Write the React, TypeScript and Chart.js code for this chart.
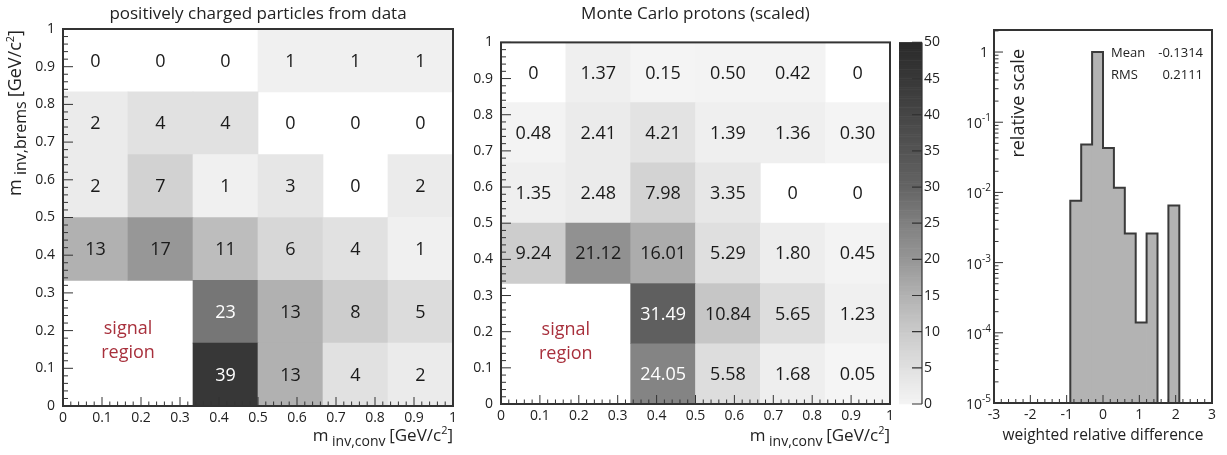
import React, { useEffect, useRef } from 'react';
import { Chart, registerables } from 'chart.js';

Chart.register(...registerables);

const FONT = "'Open Sans', 'DejaVu Sans', sans-serif";
const INK = '#222222';
const FRAME = '#333333';

// ---------- 2D histogram binning (6 x 6 bins on [0,1] x [0,1]) ----------
const xEdges = [0, 1 / 6, 2 / 6, 3 / 6, 4 / 6, 5 / 6, 1];
const yEdges = [0, 1 / 6, 2 / 6, 3 / 6, 4 / 6, 5 / 6, 1];
const heatTickStep = 0.1;
const signalX = [0, 2 / 6];
const signalY = [0, 2 / 6];

type Cell = number | null;

// positively charged particles from data (rows bottom -> top, null = empty)
const dataRow0: Cell[] = [null, null, 39, 13, 4, 2];
const dataRow1: Cell[] = [null, null, 23, 13, 8, 5];
const dataRow2: Cell[] = [13, 17, 11, 6, 4, 1];
const dataRow3: Cell[] = [2, 7, 1, 3, 0, 2];
const dataRow4: Cell[] = [2, 4, 4, 0, 0, 0];
const dataRow5: Cell[] = [0, 0, 0, 1, 1, 1];

// Monte Carlo protons (scaled)
const mcRow0: Cell[] = [null, null, 24.05, 5.58, 1.68, 0.05];
const mcRow1: Cell[] = [null, null, 31.49, 10.84, 5.65, 1.23];
const mcRow2: Cell[] = [9.24, 21.12, 16.01, 5.29, 1.8, 0.45];
const mcRow3: Cell[] = [1.35, 2.48, 7.98, 3.35, 0, 0];
const mcRow4: Cell[] = [0.48, 2.41, 4.21, 1.39, 1.36, 0.3];
const mcRow5: Cell[] = [0, 1.37, 0.15, 0.5, 0.42, 0];

// grey palette (colour bar levels 0..50)
const paletteLevels = [0, 5, 10, 15, 20, 25, 30, 35, 40, 45, 50];
const paletteGrays = [245, 224, 202, 178, 150, 128, 100, 84, 70, 56, 42];
const colorbarMin = 0;
const colorbarMax = 50;
const colorbarStep = 5;
const dataPaletteTop = 43;
const mcPaletteTop = 50;
const whiteTextAbove = 22;

// ---------- 1D histogram: weighted relative difference ----------
const diffEdges = [-0.9, -0.6, -0.3, 0, 0.3, 0.6, 0.9, 1.2, 1.5, 1.8, 2.1];
const diffValues = [0.0076, 0.048, 1.0, 0.043, 0.0117, 0.0026, 0.00014, 0.0026, 0, 0.0065];
const diffXMin = -3;
const diffXMax = 3;
const diffYMin = 1e-5;
const diffYMax = 2.06;
const statMean = '-0.1314';
const statRms = '0.2111';

function paletteGray(level: number): number {
  if (level <= paletteLevels[0]) return paletteGrays[0];
  for (let i = 1; i < paletteLevels.length; i++) {
    if (level <= paletteLevels[i]) {
      const t = (level - paletteLevels[i - 1]) / (paletteLevels[i] - paletteLevels[i - 1]);
      return paletteGrays[i - 1] + (paletteGrays[i] - paletteGrays[i - 1]) * t;
    }
  }
  return paletteGrays[paletteGrays.length - 1];
}

function grayCss(g: number) {
  const r = Math.round(g);
  return `rgb(${r},${r},${r})`;
}

function cellColor(v: Cell, top: number) {
  if (v === null || v === 0) return 'rgba(255,255,255,0)';
  return grayCss(paletteGray((v / top) * colorbarMax));
}

type Part = { t: string; size: number; dy?: number };

function drawRich(ctx: CanvasRenderingContext2D, parts: Part[], x: number, y: number, align: 'left' | 'right' | 'center') {
  const widths = parts.map((p) => {
    ctx.font = `${p.size}px ${FONT}`;
    return ctx.measureText(p.t).width;
  });
  const total = widths.reduce((a, b) => a + b, 0);
  let cx = align === 'right' ? x - total : align === 'center' ? x - total / 2 : x;
  ctx.textAlign = 'left';
  ctx.textBaseline = 'alphabetic';
  parts.forEach((p, i) => {
    ctx.font = `${p.size}px ${FONT}`;
    ctx.fillText(p.t, cx, y + (p.dy || 0));
    cx += widths[i];
  });
}

const xTitleParts: Part[] = [
  { t: 'm', size: 17 },
  { t: ' inv,conv ', size: 14, dy: 5 },
  { t: '[GeV/c', size: 17 },
  { t: '2', size: 11, dy: -7 },
  { t: ']', size: 17 },
];
const yTitleParts: Part[] = [
  { t: 'm', size: 18 },
  { t: ' inv,brems ', size: 16, dy: 5 },
  { t: '[GeV/c', size: 18 },
  { t: '2', size: 11, dy: -7 },
  { t: ']', size: 18 },
];

function heatTickLabel(v: number | string) {
  const n = Number(v);
  if (Math.abs(n) < 1e-9) return '0';
  return String(Math.round(n * 10) / 10);
}

interface HeatSpec {
  rows: Cell[][];
  top: number;
  fmt: (v: number) => string;
  title: string;
  yTitle: boolean;
  colorbar: boolean;
  padTop: number;
  padRight: number;
  yAxisWidth: number;
  xAxisHeight: number;
  cbWidth: number;
}

function drawInwardTicks(ctx: CanvasRenderingContext2D, scale: any, ca: any, horizontal: boolean, majLen: number, minLen: number, sub: number) {
  ctx.beginPath();
  const majors: number[] = scale.ticks.map((t: any) => t.value);
  const addTick = (v: number, len: number) => {
    const p = scale.getPixelForValue(v);
    if (horizontal) {
      ctx.moveTo(p, ca.bottom);
      ctx.lineTo(p, ca.bottom - len);
    } else {
      ctx.moveTo(ca.left, p);
      ctx.lineTo(ca.left + len, p);
    }
  };
  majors.forEach((v) => addTick(v, majLen));
  for (let i = 0; i < majors.length - 1; i++) {
    for (let k = 1; k < sub; k++) addTick(majors[i] + ((majors[i + 1] - majors[i]) * k) / sub, minLen);
  }
  ctx.stroke();
}

function buildHeatmap(canvas: HTMLCanvasElement, spec: HeatSpec) {
  const centers = xEdges.slice(0, -1).map((e, i) => (e + xEdges[i + 1]) / 2);
  const datasets: any[] = spec.rows.map((row, r) => ({
    type: 'bar',
    label: `row ${r}`,
    data: centers.map((x) => ({ x, y: yEdges[r + 1] - yEdges[r] })),
    backgroundColor: row.map((v) => cellColor(v, spec.top)),
    borderWidth: 0,
    barThickness: 'flex',
    categoryPercentage: 1,
    barPercentage: 1,
    stack: 'cells',
    xAxisID: 'x',
    yAxisID: 'y',
  }));

  const deco = {
    id: 'heatDeco',
    afterDatasetsDraw(chart: any) {
      const ctx: CanvasRenderingContext2D = chart.ctx;
      ctx.save();
      ctx.font = `18px ${FONT}`;
      ctx.textAlign = 'center';
      ctx.textBaseline = 'middle';
      spec.rows.forEach((row, r) => {
        const meta = chart.getDatasetMeta(r);
        row.forEach((v, c) => {
          if (v === null) return;
          const el: any = meta.data[c];
          const cy = (el.y + el.base) / 2;
          ctx.fillStyle = v > whiteTextAbove ? '#ffffff' : '#1a1a1a';
          ctx.fillText(spec.fmt(v), el.x, cy + 1);
        });
      });
      const xs = chart.scales.x;
      const ys = chart.scales.y;
      const sx = xs.getPixelForValue((signalX[0] + signalX[1]) / 2);
      const sy = ys.getPixelForValue((signalY[0] + signalY[1]) / 2);
      ctx.fillStyle = '#a8303c';
      ctx.font = `18px ${FONT}`;
      ctx.fillText('signal', sx, sy - 14);
      ctx.fillText('region', sx, sy + 10);
      ctx.restore();
    },
    afterDraw(chart: any) {
      const ctx: CanvasRenderingContext2D = chart.ctx;
      const ca = chart.chartArea;
      ctx.save();
      ctx.strokeStyle = FRAME;
      ctx.lineWidth = 1;
      drawInwardTicks(ctx, chart.scales.x, ca, true, 9, 4.5, 5);
      drawInwardTicks(ctx, chart.scales.y, ca, false, 10, 5, 5);
      ctx.lineWidth = 2;
      ctx.strokeRect(ca.left, ca.top, ca.right - ca.left, ca.bottom - ca.top);

      ctx.fillStyle = INK;
      ctx.font = `17px ${FONT}`;
      ctx.textAlign = 'center';
      ctx.textBaseline = 'alphabetic';
      ctx.fillText(spec.title, (ca.left + ca.right) / 2, 19);

      drawRich(ctx, xTitleParts, ca.right, 441, 'right');
      if (spec.yTitle) {
        ctx.save();
        ctx.translate(21, ca.top + 1);
        ctx.rotate(-Math.PI / 2);
        drawRich(ctx, yTitleParts, 0, 0, 'right');
        ctx.restore();
      }

      if (spec.colorbar) {
        const cb = chart.scales.cb;
        const x0 = ca.right + 9;
        const x1 = ca.right + 32;
        const step = 0.25;
        for (let v = colorbarMin; v < colorbarMax - 1e-9; v += step) {
          const yTop = cb.getPixelForValue(v + step);
          const yBot = cb.getPixelForValue(v);
          ctx.fillStyle = grayCss(paletteGray(v + step / 2));
          ctx.fillRect(x0, yTop - 0.3, x1 - x0, yBot - yTop + 0.6);
        }
        ctx.strokeStyle = FRAME;
        ctx.lineWidth = 1.2;
        ctx.beginPath();
        ctx.moveTo(x1, cb.top);
        ctx.lineTo(x1, cb.bottom);
        cb.ticks.forEach((t: any) => {
          const py = cb.getPixelForValue(t.value);
          ctx.moveTo(x1 - 10, py);
          ctx.lineTo(x1, py);
        });
        ctx.stroke();
      }
      ctx.restore();
    },
  };

  const tickFont = { family: FONT, size: 14 };
  const scales: any = {
    x: {
      type: 'linear',
      min: 0,
      max: 1,
      stacked: true,
      offset: false,
      grid: { display: false, drawTicks: false },
      border: { display: false },
      ticks: { stepSize: heatTickStep, autoSkip: false, maxRotation: 0, padding: 4, color: INK, font: tickFont, callback: heatTickLabel },
      afterFit: (s: any) => {
        s.height = spec.xAxisHeight;
      },
    },
    y: {
      type: 'linear',
      position: 'left',
      min: 0,
      max: 1,
      stacked: true,
      grid: { display: false, drawTicks: false },
      border: { display: false },
      ticks: { stepSize: heatTickStep, autoSkip: false, padding: 8, color: INK, font: tickFont, callback: heatTickLabel },
      afterFit: (s: any) => {
        s.width = spec.yAxisWidth;
      },
    },
  };
  if (spec.colorbar) {
    scales.cb = {
      type: 'linear',
      position: 'right',
      display: true,
      min: colorbarMin,
      max: colorbarMax,
      grid: { display: false, drawTicks: false },
      border: { display: false },
      ticks: { stepSize: colorbarStep, autoSkip: false, padding: 34, color: INK, font: tickFont },
      afterFit: (s: any) => {
        s.width = spec.cbWidth;
      },
    };
  }

  return new Chart(canvas, {
    type: 'bar',
    data: { datasets },
    options: {
      responsive: false,
      animation: false,
      events: [],
      layout: { padding: { top: spec.padTop, right: spec.padRight, left: 0, bottom: 0 } },
      plugins: { legend: { display: false }, tooltip: { enabled: false }, title: { display: false } },
      scales,
    } as any,
    plugins: [deco],
  });
}

function buildDiff(canvas: HTMLCanvasElement) {
  const centers = diffValues.map((_, i) => (diffEdges[i] + diffEdges[i + 1]) / 2);
  const outline: { x: number; y: number }[] = [{ x: diffEdges[0], y: diffYMin }];
  diffValues.forEach((v, i) => outline.push({ x: diffEdges[i], y: v > 0 ? v : diffYMin }));
  outline.push({ x: diffEdges[diffEdges.length - 1], y: diffYMin });

  const logMinors: number[] = [];
  for (let e = Math.floor(Math.log10(diffYMin)); e <= Math.floor(Math.log10(diffYMax)); e++) {
    for (let k = 2; k <= 9; k++) {
      const v = k * Math.pow(10, e);
      if (v > diffYMin && v < diffYMax) logMinors.push(v);
    }
  }

  const deco = {
    id: 'diffDeco',
    afterDraw(chart: any) {
      const ctx: CanvasRenderingContext2D = chart.ctx;
      const ca = chart.chartArea;
      const xs = chart.scales.x;
      const ys = chart.scales.y;
      ctx.save();
      ctx.strokeStyle = FRAME;
      ctx.lineWidth = 1;
      drawInwardTicks(ctx, xs, ca, true, 8, 4, 5);
      const decades: number[] = [];
      for (let e = Math.ceil(Math.log10(ys.min) - 1e-9); e <= Math.floor(Math.log10(ys.max) + 1e-9); e++) decades.push(e);
      ctx.beginPath();
      decades.forEach((e) => {
        const p = ys.getPixelForValue(Math.pow(10, e));
        ctx.moveTo(ca.left, p);
        ctx.lineTo(ca.left + 9, p);
      });
      logMinors.forEach((v) => {
        const p = ys.getPixelForValue(v);
        ctx.moveTo(ca.left, p);
        ctx.lineTo(ca.left + 4.5, p);
      });
      ctx.stroke();
      ctx.lineWidth = 2;
      ctx.strokeRect(ca.left, ca.top, ca.right - ca.left, ca.bottom - ca.top);

      ctx.fillStyle = INK;
      decades.forEach((e) => {
        const p = ys.getPixelForValue(Math.pow(10, e));
        if (e === 0) drawRich(ctx, [{ t: '1', size: 14 }], ca.left - 6, p + 5, 'right');
        else drawRich(ctx, [{ t: '10', size: 14 }, { t: String(e), size: 10, dy: -7 }], ca.left - 3, p + 6, 'right');
      });

      // stats
      ctx.font = `13px ${FONT}`;
      ctx.textBaseline = 'alphabetic';
      ctx.textAlign = 'left';
      ctx.fillText('Mean', 151, 57);
      ctx.fillText('RMS', 151, 79);
      ctx.textAlign = 'right';
      ctx.fillText(statMean, 243, 57);
      ctx.fillText(statRms, 243, 79);

      // titles
      ctx.font = `15.5px ${FONT}`;
      ctx.textAlign = 'center';
      ctx.fillText('weighted relative difference', (ca.left + ca.right) / 2, 440);
      ctx.save();
      ctx.translate(ca.left + 30, ca.top + 19);
      ctx.rotate(-Math.PI / 2);
      ctx.font = `18px ${FONT}`;
      ctx.textAlign = 'right';
      ctx.fillText('relative scale', 0, 0);
      ctx.restore();
      ctx.restore();
    },
  };

  return new Chart(canvas, {
    type: 'bar',
    data: {
      datasets: [
        {
          type: 'line',
          label: 'outline',
          data: outline,
          stepped: 'before',
          borderColor: '#3a3a3a',
          borderWidth: 2,
          pointRadius: 0,
          fill: false,
          order: 0,
        } as any,
        {
          type: 'bar',
          label: 'fill',
          data: centers.map((x, i) => ({ x, y: diffValues[i] > 0 ? diffValues[i] : null })),
          backgroundColor: '#b3b3b3',
          borderWidth: 0,
          barThickness: 'flex',
          categoryPercentage: 1,
          barPercentage: 1,
          order: 1,
        } as any,
      ],
    },
    options: {
      responsive: false,
      animation: false,
      events: [],
      layout: { padding: { top: 30, right: 15, left: 0, bottom: 0 } },
      plugins: { legend: { display: false }, tooltip: { enabled: false } },
      scales: {
        x: {
          type: 'linear',
          min: diffXMin,
          max: diffXMax,
          offset: false,
          grid: { display: false, drawTicks: false },
          border: { display: false },
          ticks: { stepSize: 1, autoSkip: false, maxRotation: 0, padding: 4, color: INK, font: { family: FONT, size: 14 } },
          afterFit: (s: any) => {
            s.height = 52;
          },
        },
        y: {
          type: 'logarithmic',
          min: diffYMin,
          max: diffYMax,
          grid: { display: false, drawTicks: false },
          border: { display: false },
          ticks: { display: false },
          afterFit: (s: any) => {
            s.width = 34;
          },
        },
      },
    } as any,
    plugins: [deco],
  });
}

export default function App() {
  const c1 = useRef<HTMLCanvasElement>(null);
  const c2 = useRef<HTMLCanvasElement>(null);
  const c3 = useRef<HTMLCanvasElement>(null);

  useEffect(() => {
    const charts: Chart[] = [];
    if (c1.current) {
      charts.push(
        buildHeatmap(c1.current, {
          rows: [dataRow0, dataRow1, dataRow2, dataRow3, dataRow4, dataRow5],
          top: dataPaletteTop,
          fmt: (v) => String(v),
          title: 'positively charged particles from data',
          yTitle: true,
          colorbar: false,
          padTop: 29,
          padRight: 17,
          yAxisWidth: 63,
          xAxisHeight: 49,
          cbWidth: 0,
        })
      );
    }
    if (c2.current) {
      charts.push(
        buildHeatmap(c2.current, {
          rows: [mcRow0, mcRow1, mcRow2, mcRow3, mcRow4, mcRow5],
          top: mcPaletteTop,
          fmt: (v) => (v === 0 ? '0' : v.toFixed(2)),
          title: 'Monte Carlo protons (scaled)',
          yTitle: false,
          colorbar: true,
          padTop: 28,
          padRight: 0,
          yAxisWidth: 31,
          xAxisHeight: 51,
          cbWidth: 70,
        })
      );
    }
    if (c3.current) charts.push(buildDiff(c3.current));
    return () => charts.forEach((c) => c.destroy());
  }, []);

  return (
    <div style={{ position: 'fixed', left: 0, top: 0, width: 1227, height: 455, background: '#ffffff', overflow: 'hidden' }}>
      <canvas ref={c1} width={470} height={455} style={{ position: 'absolute', left: 0, top: 0, width: 470, height: 455 }} />
      <canvas ref={c2} width={490} height={455} style={{ position: 'absolute', left: 470, top: 0, width: 490, height: 455 }} />
      <canvas ref={c3} width={267} height={455} style={{ position: 'absolute', left: 960, top: 0, width: 267, height: 455 }} />
    </div>
  );
}
